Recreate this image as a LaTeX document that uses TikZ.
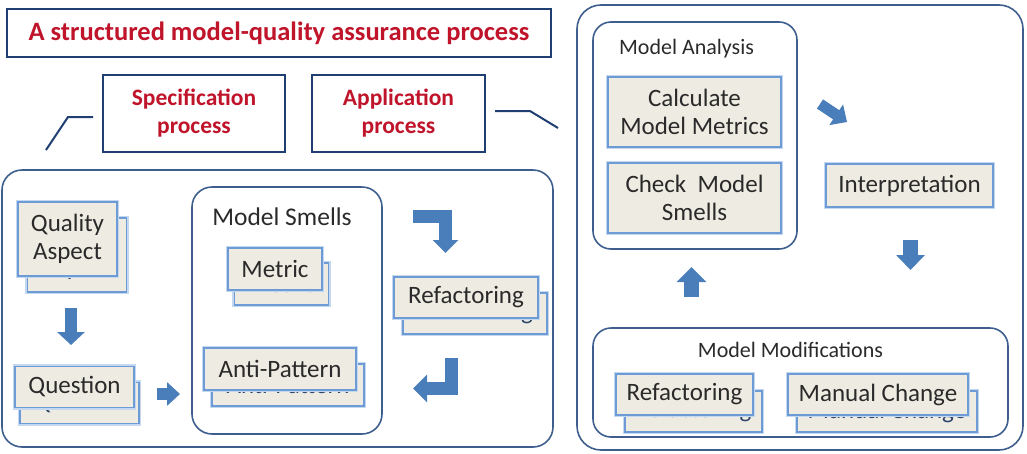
\documentclass[tikz,border=0pt]{standalone}
\usepackage{fontspec}
\setmainfont{Carlito}
\usetikzlibrary{arrows.meta}
\definecolor{navy}{HTML}{1F3F73}
\definecolor{redt}{HTML}{C0142A}
\definecolor{cont}{HTML}{3E5F8E}
\definecolor{bblue}{HTML}{6C9BD6}
\definecolor{glow}{HTML}{C4D8F2}
\definecolor{beige}{HTML}{EEECE2}
\definecolor{arrowc}{HTML}{4A7EBB}
\definecolor{txt}{HTML}{2A2A2A}
\definecolor{backtxt}{HTML}{2E4468}
\tikzset{
  headbox/.style={draw=navy, line width=2.6pt, fill=white, inner sep=0pt, text=redt,
    font=\bfseries\fontsize{23.5}{28}\selectfont, align=center},
  container/.style={draw=cont, line width=1.6pt, rounded corners=20pt},
  clabel/.style={text=txt, font=\fontsize{22}{26}\selectfont, inner sep=0pt},
  frontbox/.style={draw=bblue, line width=1.4pt, fill=beige, preaction={draw=glow, line width=4.5pt},
    inner sep=0pt, text=txt, font=\fontsize{25}{28}\selectfont, align=center},
  backbox/.style={frontbox, text=backtxt},
  blockarrow/.style={draw=arrowc, line join=miter},
  leader/.style={draw=navy, line width=2pt}
}
\begin{document}
\begin{tikzpicture}[x=1pt,y=-1pt]
\useasboundingbox (0,0) rectangle (1027,453);
% header
\node[headbox, minimum width=544, minimum height=48, font=\bfseries\fontsize{26.5}{30}\selectfont] (title) at (279,33) {A structured model-quality assurance process};
\node[headbox, minimum width=182, minimum height=77] (spec) at (194,113.5) {Specification\\process};
\node[headbox, minimum width=173, minimum height=77] (app) at (398.5,113.5) {Application\\process};
\coordinate (l1) at (46,150);
\coordinate (l2) at (68,117);
\coordinate (l3) at (93,117);
\draw[leader] (l1) -- (l2) -- (l3);
\coordinate (r1) at (495,111);
\coordinate (r2) at (530,111);
\coordinate (r3) at (558,128);
\draw[leader] (r1) -- (r2) -- (r3);
% containers
\draw[container] (2,170) rectangle (553,447);
\draw[container] (192,187) rectangle (382,434);
\draw[container, rounded corners=24pt] (577,5) rectangle (1023,450);
\draw[container, rounded corners=18pt] (593,22) rectangle (797,249);
\draw[container, rounded corners=18pt] (593,328) rectangle (1008,437);
\node[clabel, font=\fontsize{25.5}{28}\selectfont] (smells) at (282,217) {Model Smells};
\node[clabel] (analysis) at (686.5,49) {Model Analysis};
\node[clabel] (mods) at (790.5,350) {Model Modifications};
% back copies
\node[backbox, minimum width=99, minimum height=74] (qab) at (77,255) {Quality\\Aspect};
\node[backbox, minimum width=119, minimum height=41] (qub) at (79.5,403) {Question};
\node[backbox, minimum width=94, minimum height=42] (meb) at (281.5,284) {Metric};
\node[backbox, minimum width=152, minimum height=42] (anb) at (288,385) {Anti-Pattern};
\node[backbox, minimum width=144, minimum height=41] (rfb) at (475,313.5) {Refactoring};
\node[backbox, minimum width=137, minimum height=41] (rf2b) at (693.5,411.5) {Refactoring};
\node[backbox, minimum width=180, minimum height=41] (mcb) at (887,411.5) {Manual Change};
% front boxes
\node[frontbox, minimum width=99, minimum height=74] (qa) at (67.5,239) {Quality\\Aspect};
\node[frontbox, minimum width=119, minimum height=41] (qu) at (74.5,387) {Question};
\node[frontbox, minimum width=94, minimum height=42] (me) at (275,269) {Metric};
\node[frontbox, minimum width=152, minimum height=42] (an) at (280,369) {Anti-Pattern};
\node[frontbox, minimum width=144, minimum height=41] (rf) at (466,297.5) {Refactoring};
\node[frontbox, minimum width=137, minimum height=41] (rf2) at (684.5,394.5) {Refactoring};
\node[frontbox, minimum width=180, minimum height=41] (mc) at (878,394.5) {Manual Change};
\node[frontbox, minimum width=173, minimum height=70] (calc) at (694.5,112) {Calculate\\Model Metrics};
\node[frontbox, minimum width=173, minimum height=70] (check) at (694.5,198) {Check~ Model\\Smells};
\node[frontbox, minimum width=167, minimum height=43] (interp) at (909.5,185.5) {Interpretation};
% block arrows
\coordinate (a1s) at (71,308); \coordinate (a1e) at (71,345);
\draw[blockarrow, line width=12pt, -{Triangle[width=27pt,length=13pt]}] (a1s) -- (a1e);
\coordinate (a2s) at (157,394); \coordinate (a2e) at (180,394);
\draw[blockarrow, line width=12pt, -{Triangle[width=23pt,length=13pt]}] (a2s) -- (a2e);
\coordinate (a3s) at (413,216.5); \coordinate (a3m) at (445.5,216.5); \coordinate (a3e) at (445.5,253);
\draw[blockarrow, line width=13pt, -{Triangle[width=25pt,length=13pt]}] (a3s) -- (a3m) -- (a3e);
\coordinate (a4s) at (451,358); \coordinate (a4m) at (451,388.5); \coordinate (a4e) at (413,388.5);
\draw[blockarrow, line width=13pt, -{Triangle[width=27pt,length=14pt]}] (a4s) -- (a4m) -- (a4e);
\coordinate (a5s) at (820,104); \coordinate (a5e) at (847,122);
\draw[blockarrow, line width=11pt, -{Triangle[width=24pt,length=13pt]}] (a5s) -- (a5e);
\coordinate (a6s) at (910.5,240); \coordinate (a6e) at (910.5,270);
\draw[blockarrow, line width=15pt, -{Triangle[width=28pt,length=15pt]}] (a6s) -- (a6e);
\coordinate (a7s) at (691.5,297); \coordinate (a7e) at (691.5,267);
\draw[blockarrow, line width=15pt, -{Triangle[width=29pt,length=15pt]}] (a7s) -- (a7e);
\end{tikzpicture}
\end{document}
